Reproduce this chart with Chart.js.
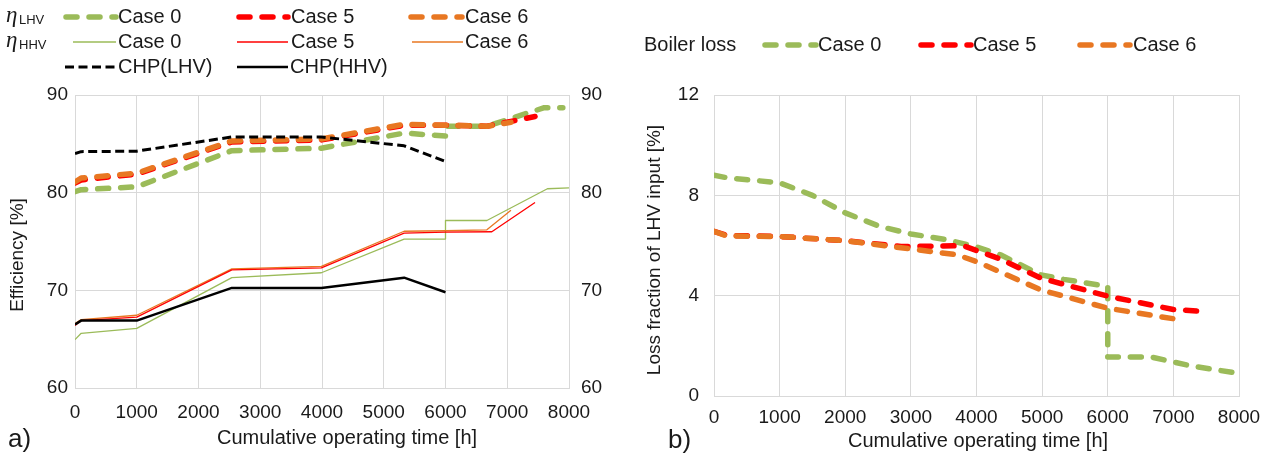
<!DOCTYPE html>
<html><head><meta charset="utf-8">
<script src="https://cdn.jsdelivr.net/npm/chart.js@4/dist/chart.umd.min.js"></script>
<style>
html,body{margin:0;padding:0;background:#fff;width:1276px;height:468px;overflow:hidden}
#wa{position:absolute;left:0;top:0;width:636px;height:468px}
#wb{position:absolute;left:636px;top:0;width:640px;height:468px}
</style></head><body>
<div id="wa"><canvas id="ca"></canvas></div>
<div id="wb"><canvas id="cb"></canvas></div>
<script>
// ---- tick labels ----
const timeTicks=[0,1000,2000,3000,4000,5000,6000,7000,8000];
const effTicks=[60,70,80,90];
const lossTicks=[0,4,8,12];

// ---- panel a) efficiency [%] vs cumulative operating time [h] ----
const lhvCase0=[[0,80.1],[100,80.3],[1000,80.6],[2540,84.3],[3990,84.55],[5330,86.1],[6000,85.8],[6000,86.8],[6670,86.8],[7600,88.7],[7900,88.7]];
const lhvCase5=[[0,81.0],[100,81.3],[1000,81.9],[2540,85.2],[3990,85.4],[5330,86.9],[6000,86.9],[6670,86.8],[7450,87.8]];
const lhvCase6=[[0,81.1],[100,81.5],[1000,82.0],[2540,85.3],[3990,85.5],[5330,87.0],[6000,86.9],[6670,86.8],[7060,87.2]];
const hhvCase0=[[0,64.95],[100,65.6],[1000,66.1],[2540,71.3],[3990,71.8],[5330,75.25],[6000,75.25],[6000,77.15],[6670,77.15],[7650,80.4],[8000,80.5]];
const hhvCase5=[[0,66.4],[100,66.9],[1000,67.25],[2540,72.1],[3990,72.3],[5330,75.85],[6000,75.95],[6750,76.0],[7450,79.0]];
const hhvCase6=[[0,66.6],[100,67.0],[1000,67.45],[2540,72.2],[3990,72.45],[5330,76.05],[6000,76.1],[6670,76.2],[7060,78.2]];
const chpLhv=[[0,84.0],[100,84.2],[1000,84.25],[2540,85.7],[3990,85.7],[5330,84.8],[6000,83.2]];
const chpHhv=[[0,66.5],[100,66.9],[1000,66.9],[2540,70.25],[3990,70.25],[5330,71.3],[6000,69.8]];

// ---- panel b) boiler loss fraction of LHV input [%] ----
const lossCase0=[[0,8.8],[200,8.7],[1000,8.5],[1500,8.0],[2000,7.3],[2540,6.75],[3000,6.46],[3550,6.23],[3990,5.95],[4365,5.63],[4980,4.83],[5330,4.65],[6000,4.37],[6000,1.55],[6670,1.55],[7270,1.2],[8000,0.9]];
const lossCase5=[[0,6.56],[200,6.4],[1000,6.36],[2000,6.19],[2850,5.96],[3800,5.99],[4365,5.46],[4980,4.7],[6000,3.98],[7000,3.45],[7400,3.38],[7400,3.12]];
const lossCase6=[[0,6.56],[200,6.38],[1000,6.36],[2000,6.19],[3000,5.86],[3700,5.63],[4000,5.36],[4980,4.23],[6000,3.5],[7000,3.08],[7100,3.05]];

const FONT="'Liberation Sans', Arial, sans-serif";
const TXT='#1a1a1a', GRID='#d9d9d9';
const GREEN='#9BBB59', RED='#FF0000', ORANGE='#E87722';
const ST={
  lhv0:{color:GREEN,width:5.5,dash:[11,12],cap:'round'},
  lhv5:{color:RED,width:5.5,dash:[11,12],cap:'round'},
  lhv6:{color:ORANGE,width:5.5,dash:[11,12],cap:'round'},
  hhv0:{color:GREEN,width:1.3,dash:[],cap:'butt'},
  hhv5:{color:RED,width:1.3,dash:[],cap:'butt'},
  hhv6:{color:ORANGE,width:1.3,dash:[],cap:'butt'},
  chpL:{color:'#000',width:3,dash:[9,4.5],cap:'butt'},
  chpH:{color:'#000',width:2.5,dash:[],cap:'butt'}
};
const pts=a=>a.map(([x,y])=>({x,y}));
function ds(label,data,st,yAxisID){
  return {label,data:pts(data),borderColor:st.color,borderWidth:st.width,borderDash:st.dash,
    borderCapStyle:st.cap,borderJoinStyle:'round',pointRadius:0,tension:0,fill:false,yAxisID:yAxisID||'y'};
}
function drawSample(ctx,x1,x2,y,st){
  ctx.save();ctx.beginPath();ctx.strokeStyle=st.color;ctx.lineWidth=st.width;ctx.lineCap=st.cap;
  ctx.setLineDash(st.dash);ctx.moveTo(x1,y);ctx.lineTo(x2,y);ctx.stroke();ctx.restore();
}
function txt(ctx,s,x,y,size,align,rot){
  ctx.save();ctx.fillStyle=TXT;ctx.font=size+'px '+FONT;ctx.textAlign=align||'left';ctx.textBaseline='middle';
  if(rot){ctx.translate(x,y);ctx.rotate(rot);ctx.fillText(s,0,0);}else ctx.fillText(s,x,y);
  ctx.restore();
}
function eta(ctx,x,y,sub){
  ctx.save();ctx.fillStyle=TXT;ctx.font='italic 23px "Liberation Serif", serif';ctx.textBaseline='alphabetic';
  ctx.fillText('\u03B7',x,y+5);ctx.font='13px '+FONT;ctx.fillText(sub,x+13,y+7);ctx.restore();
}
const plain=v=>String(v);
function xScale(h,pad){
  return {type:'linear',min:0,max:8000,
    afterBuildTicks:s=>{s.ticks=timeTicks.map(v=>({value:v}));},
    grid:{color:GRID,drawTicks:false,lineWidth:1},border:{color:GRID},
    ticks:{font:{family:FONT,size:19},color:TXT,padding:pad,maxRotation:0,autoSkip:false,callback:plain},
    afterFit:s=>{s.height=h;}};
}
function yScale(min,max,list,pos,w,pad,grid){
  return {type:'linear',position:pos,min,max,
    afterBuildTicks:s=>{s.ticks=list.map(v=>({value:v}));},
    grid:{display:grid,color:GRID,drawTicks:false,lineWidth:1},border:{display:grid,color:GRID},
    ticks:{font:{family:FONT,size:19},color:TXT,padding:pad,callback:plain},
    afterFit:s=>{s.width=w;}};
}
const common={responsive:true,maintainAspectRatio:false,animation:false,devicePixelRatio:1,
  plugins:{legend:{display:false},tooltip:{enabled:false}},events:[]};

// ---- left chart ----
new Chart(document.getElementById('ca'),{
  type:'line',
  data:{datasets:[
    ds('CHP(LHV)',chpLhv,ST.chpL),
    ds('CHP(HHV)',chpHhv,ST.chpH),
    ds('\u03B7LHV Case 6',lhvCase6,ST.lhv6),
    ds('\u03B7LHV Case 5',lhvCase5,ST.lhv5),
    ds('\u03B7LHV Case 0',lhvCase0,ST.lhv0),
    ds('\u03B7HHV Case 5',hhvCase5,ST.hhv5),
    ds('\u03B7HHV Case 6',hhvCase6,ST.hhv6),
    ds('\u03B7HHV Case 0',hhvCase0,ST.hhv0)
  ]},
  options:Object.assign({},common,{
    layout:{padding:{top:95,left:0,right:0,bottom:0}},
    scales:{
      x:xScale(80,13),
      y:yScale(60,90,effTicks,'left',75,7,true),
      y2:yScale(60,90,effTicks,'right',67,12,false)
    }
  }),
  plugins:[{id:'decoA',afterDraw(c){
    const ctx=c.ctx;
    eta(ctx,6,17,'LHV');eta(ctx,6,42,'HHV');
    drawSample(ctx,66,116,17,ST.lhv0);txt(ctx,'Case 0',118,17,20);
    drawSample(ctx,239,288,17,ST.lhv5);txt(ctx,'Case 5',291,17,20);
    drawSample(ctx,411,462,17,ST.lhv6);txt(ctx,'Case 6',465,17,20);
    drawSample(ctx,73,116,42,ST.hhv0);txt(ctx,'Case 0',118,42,20);
    drawSample(ctx,237,288,42,ST.hhv5);txt(ctx,'Case 5',291,42,20);
    drawSample(ctx,412,463,42,ST.hhv6);txt(ctx,'Case 6',465,42,20);
    drawSample(ctx,65,116,67,ST.chpL);txt(ctx,'CHP(LHV)',118,67,20);
    drawSample(ctx,237,288,67,ST.chpH);txt(ctx,'CHP(HHV)',290,67,20);
    txt(ctx,'Efficiency [%]',18,255,19,'center',-Math.PI/2);
    txt(ctx,'Cumulative operating time [h]',347,438,20,'center');
    txt(ctx,'a)',8,440,26,'left');
  }}]
});

// ---- right chart ----
const OX=636;
new Chart(document.getElementById('cb'),{
  type:'line',
  data:{datasets:[
    ds('Boiler loss Case 6',lossCase6,ST.lhv6),
    ds('Boiler loss Case 5',lossCase5,ST.lhv5),
    ds('Boiler loss Case 0',lossCase0,ST.lhv0)
  ]},
  options:Object.assign({},common,{
    layout:{padding:{top:95,left:0,right:37,bottom:0}},
    scales:{
      x:xScale(72,10),
      y:yScale(0,12,lossTicks,'left',78,15,true)
    }
  }),
  plugins:[{id:'decoB',afterDraw(c){
    const ctx=c.ctx;
    txt(ctx,'Boiler loss',644-OX,45,20);
    drawSample(ctx,765-OX,816-OX,45,ST.lhv0);txt(ctx,'Case 0',818-OX,45,20);
    drawSample(ctx,921-OX,971-OX,45,ST.lhv5);txt(ctx,'Case 5',973-OX,45,20);
    drawSample(ctx,1080-OX,1130-OX,45,ST.lhv6);txt(ctx,'Case 6',1133-OX,45,20);
    txt(ctx,'Loss fraction of LHV input [%]',655-OX,250,19,'center',-Math.PI/2);
    txt(ctx,'Cumulative operating time [h]',978-OX,441,20,'center');
    txt(ctx,'b)',668-OX,441,26,'left');
  }}]
});
</script>
</body></html>
